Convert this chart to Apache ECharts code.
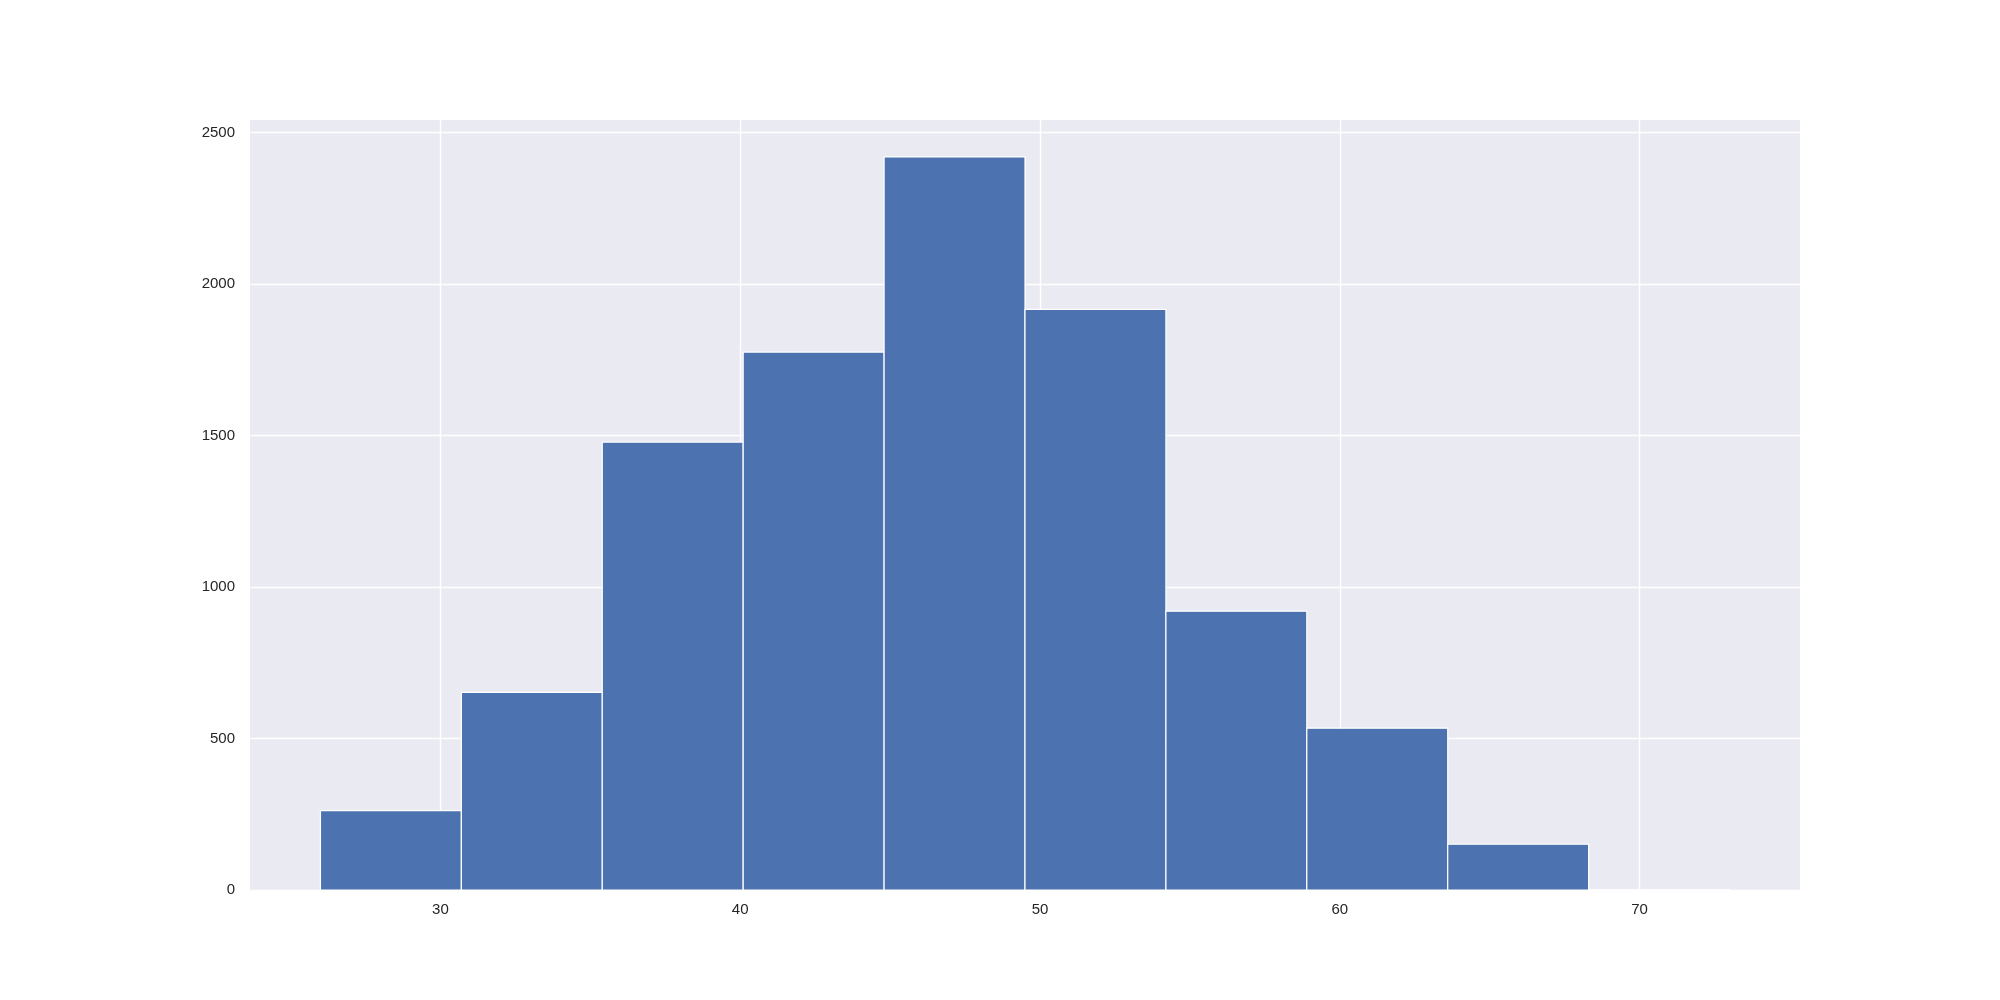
<!DOCTYPE html>
<html>
<head>
<meta charset="utf-8">
<script src="https://cdn.jsdelivr.net/npm/echarts@6/dist/echarts.min.js"></script>
<style>
  html, body { margin: 0; padding: 0; background: #fff; }
  #chart { width: 2000px; height: 1000px; }
</style>
</head>
<body>
<div id="chart"></div>
<script>
// Bin edges and counts
var binStarts = [26.0, 30.7, 35.4, 40.1, 44.8, 49.5, 54.2, 58.9, 63.6, 68.3];
var binEnds   = [30.7, 35.4, 40.1, 44.8, 49.5, 54.2, 58.9, 63.6, 68.3, 73.0];
var counts    = [262, 652, 1478, 1775, 2419, 1916, 920, 534, 151, 1];

var xTicks = [30, 40, 50, 60, 70];
var yTicks = [0, 500, 1000, 1500, 2000, 2500];

var rows = [];
for (var i = 0; i < counts.length; i++) {
  rows.push([binStarts[i], binEnds[i], counts[i]]);
}

var chart = echarts.init(document.getElementById('chart'));

var option = {
  animation: false,
  backgroundColor: '#ffffff',
  grid: {
    left: 250, right: 200, top: 120, bottom: 110,
    show: true, backgroundColor: '#EAEAF2', borderWidth: 0
  },
  xAxis: {
    type: 'value',
    min: 23.65,
    max: 75.35,
    axisLine: { show: false },
    axisTick: { show: false, customValues: xTicks },
    axisLabel: {
      customValues: xTicks,
      formatter: function (v) { return String(v); },
      color: '#262626', fontSize: 15, margin: 12,
      fontFamily: 'Liberation Sans, Arial, sans-serif'
    },
    splitLine: { show: true, lineStyle: { color: '#ffffff', width: 1.4 } }
  },
  yAxis: {
    type: 'value',
    min: 0,
    max: 2541,
    axisLine: { show: false },
    axisTick: { show: false, customValues: yTicks },
    axisLabel: {
      customValues: yTicks,
      formatter: function (v) { return String(v); },
      color: '#262626', fontSize: 15, margin: 15,
      fontFamily: 'Liberation Sans, Arial, sans-serif'
    },
    splitLine: { show: true, lineStyle: { color: '#ffffff', width: 1.4 } }
  },
  series: [{
    type: 'custom',
    data: rows,
    encode: { x: [0, 1], y: 2 },
    renderItem: function (params, api) {
      var p0 = api.coord([api.value(0), api.value(2)]);
      var p1 = api.coord([api.value(1), 0]);
      return {
        type: 'rect',
        shape: { x: p0[0], y: p0[1], width: p1[0] - p0[0], height: p1[1] - p0[1] },
        style: { fill: '#4C72B0', stroke: '#ffffff', lineWidth: 1.2 }
      };
    }
  }]
};

chart.setOption(option);
</script>
</body>
</html>
